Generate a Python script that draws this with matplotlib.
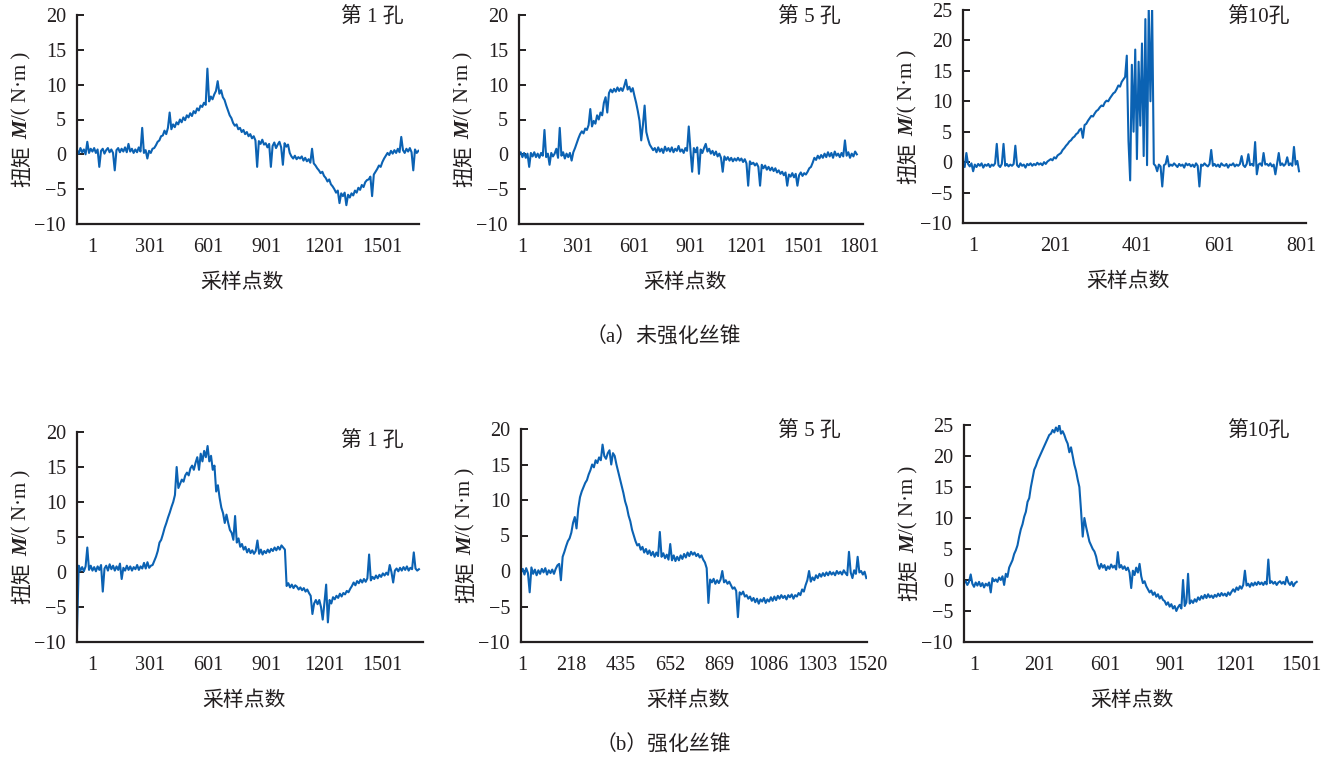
import numpy as np
import matplotlib
matplotlib.use('Agg')
import matplotlib.pyplot as plt

plt.rcParams['font.family'] = ['Liberation Serif', 'Noto Sans CJK SC']

# ---- data (torque, N·m), evenly spaced along each record ----
# (a) untreated tap, hole 1
torque_a1 = [0.6, 0.1, 0.9, 0.3, 0.7, 0.0, 1.8, 0.2, 0.8, 0.4,
             0.9, 0.2, 0.7, -1.8, 0.5, 0.8, 0.1, 0.6, 0.9, 0.3,
             0.7, 0.2, -2.3, 0.6, 0.9, 0.3, 0.8, 0.4, 1.0, 0.3,
             1.5, 0.4, 0.8, 0.2, 0.7, 0.3, 1.0, 0.4, 3.8, 0.2,
             0.6, -0.6, 0.5, 0.2, 0.8, 0.9, 1.3, 1.8, 2.0, 2.6,
             2.7, 3.4, 2.9, 3.8, 6.0, 3.6, 4.3, 3.9, 4.6, 4.3,
             5.0, 4.6, 5.3, 4.9, 5.6, 5.3, 5.9, 5.5, 6.2, 5.9,
             6.6, 6.3, 7.0, 6.8, 7.4, 7.1, 12.3, 7.6, 8.3, 7.9,
             8.6, 9.1, 10.5, 8.7, 9.2, 8.2, 7.8, 7.0, 6.3, 5.6,
             5.2, 4.5, 4.1, 4.3, 3.6, 3.8, 3.2, 3.5, 2.9, 3.2,
             2.6, 2.9, 2.3, 2.6, 2.0, -1.8, 1.9, 1.5, 2.1, 1.4,
             1.6, 1.0, 1.5, -1.8, 1.2, 1.7, 0.9, 1.4, 1.8, 1.0,
             -1.5, 1.6, 1.1, 1.4, 0.2, -0.3, -0.6, -0.2, -0.7, -0.4,
             -0.6, -0.3, -0.9, -0.5, -1.0, -0.7, -1.2, 0.8, -1.3, -1.6,
             -2.0, -2.3, -2.7, -2.5, -3.1, -3.4, -3.9, -3.6, -4.3, -4.6,
             -5.0, -5.5, -5.2, -7.0, -5.6, -6.0, -5.5, -7.3, -5.8, -6.2,
             -5.6, -5.9, -5.2, -5.5, -4.8, -5.1, -4.4, -4.7, -4.0, -3.7,
             -3.6, -3.2, -6.0, -2.9, -2.5, -2.1, -1.6, -1.8, -1.1, -0.6,
             -0.2, 0.2, -0.1, 0.5, 0.1, 0.6, 0.2, 0.8, 0.3, 2.5,
             0.6, 0.2, 0.8, 0.4, 0.9, 0.3, -2.3, 0.7, 0.2, 0.5]
# (a) untreated tap, hole 5
torque_a5 = [-0.1, 0.3, -0.4, 0.2, -0.5, 0.1, -1.8, 0.2, -0.3, 0.3,
             -0.4, 0.1, -0.5, 0.2, -0.2, 3.5, -0.4, 0.1, -1.5, 0.2,
             -0.3, 0.1, 0.8, -0.5, 3.8, -0.2, 0.3, -0.6, 0.1, -0.4,
             0.2, -0.9, 0.3, 0.9, 1.6, 2.3, 2.9, 3.3, 3.0, 3.7,
             3.5, 4.2, 6.5, 4.0, 4.8, 4.4, 5.6, 5.0, 6.0, 5.6,
             7.4, 8.2, 6.0, 8.8, 9.3, 8.9, 9.4, 9.0, 9.6, 9.1,
             9.5, 9.1, 9.8, 10.7, 9.3, 9.7, 9.0, 9.5, 8.4, 7.4,
             6.2, 4.8, 2.0, 4.2, 7.0, 3.2, 2.2, 1.4, 1.0, 0.6,
             0.9, 0.3, 1.0, 0.4, 0.8, 0.2, 1.1, 0.5, 0.9, 0.4,
             1.0, 0.3, 0.8, 0.5, 1.2, 0.4, 0.7, 0.2, 0.9, 0.5,
             4.0, 0.6, -2.5, 0.9, 0.3, 1.0, -2.8, 0.7, 0.2, 0.9,
             1.5, 0.4, 0.8, 0.1, 0.5, -0.1, 0.4, -0.3, 0.1, -0.5,
             -2.5, -0.3, -0.8, -0.4, -0.9, -0.5, -1.0, -0.6, -0.9, -0.5,
             -0.9, -0.6, -1.1, -0.7, -1.3, -4.5, -1.0, -1.4, -1.2, -1.6,
             -1.3, -1.8, -4.5, -1.5, -2.0, -1.6, -2.2, -1.8, -2.3, -1.9,
             -2.4, -2.0, -2.6, -2.3, -2.8, -2.5, -3.0, -2.6, -4.5, -2.9,
             -3.2, -2.7, -3.3, -2.8, -4.5, -3.0, -2.6, -3.1, -2.7, -2.9,
             -2.5, -2.0, -1.8, -1.2, -0.5, -0.8, -0.2, -0.6, -0.1, -0.5,
             0.1, -0.4, 0.3, -0.3, 0.2, -0.5, 0.4, -0.2, 0.1, -0.4,
             0.2, -0.3, 2.0, -0.2, 0.3, -0.5, 0.1, -0.3, 0.4, 0.0]
# (a) untreated tap, hole 10
torque_a10 = [-0.5, -0.8, 1.5, -0.3, -0.7, -0.2, -1.5, -0.4, -0.8, -0.3,
              -0.6, -0.2, -0.9, -0.4, -0.6, -0.3, -0.8, -0.4, -0.6, -0.2,
              3.0, -0.5, -0.8, -0.3, 3.0, -0.6, -0.3, -0.7, -0.4, -0.6,
              -0.3, 2.7, -0.5, -0.8, -0.2, -0.6, -0.4, -0.9, -0.3, -0.5,
              -0.2, -0.6, -0.3, -0.5, -0.1, -0.4, -0.2, -0.5, 0.0, -0.3,
              0.1, 0.3, 0.5, 0.3, 0.8, 0.6, 1.1, 1.3, 1.5, 2.0,
              2.3, 2.7, 3.0, 3.4, 3.6, 4.0, 4.2, 4.6, 4.8, 5.3,
              5.5, 4.0, 6.1, 6.3, 6.8, 7.2, 7.6, 7.5, 8.0, 8.4,
              8.6, 9.0, 9.3, 9.2, 9.8, 10.1, 10.0, 10.5, 10.9, 11.3,
              11.5, 12.0, 12.6, 12.4, 13.2, 13.6, 14.0, 17.5, 3.5, -3.0,
              16.0, 5.0, 18.5, 0.5, 16.5, 6.0, 19.5, 1.0, 23.5, -0.5,
              25.5, 10.0, 25.5, -0.3, -0.6, -1.5, -0.4, -0.7, -4.0, -0.5,
              -0.3, 1.0, -0.7, -0.4, -0.6, -0.2, -0.5, -0.8, -0.3, -0.6,
              -0.4, -0.9, -0.2, -0.5, -0.3, -0.7, -0.4, -0.8, -0.2, -0.6,
              -4.0, -0.4, -0.6, -0.2, -0.5, -0.7, -0.3, 2.0, -0.6, -0.3,
              -0.7, -0.4, -0.8, -0.2, -0.5, -0.6, -0.3, -0.9, -0.4, -0.5,
              -0.2, -0.7, -0.4, -0.6, -0.3, 1.0, -0.5, -0.8, -0.3, 1.3,
              -0.5, -0.3, -0.6, 3.3, -2.0, -0.4, -0.2, -0.6, 1.5, -0.4,
              -0.3, -0.6, -0.2, -0.7, -0.4, -2.0, -0.3, 1.5, -0.5, -0.2,
              -0.6, -0.3, 0.8, -0.5, -0.2, -0.6, 2.5, -0.4, 0.2, -1.5]
# (b) strengthened tap, hole 1
torque_b1 = [-8.5, 0.9, 0.2, 0.7, 0.1, 0.8, 3.5, 0.3, 0.9, 0.2,
             0.7, 0.1, 0.8, 0.3, 1.0, -2.8, 0.5, 0.9, 0.2, 1.1,
             0.4, 0.9, 0.2, 0.8, 0.3, 1.2, -1.0, 0.6, 0.2, 0.9,
             0.3, 0.8, 0.2, 0.7, 0.4, 1.0, 0.3, 0.8, 0.5, 1.3,
             0.5, 1.4, 0.6, 0.9, 1.0, 1.6, 2.2, 3.0, 4.2, 4.6,
             5.4, 6.3, 7.0, 7.8, 8.5, 9.3, 10.0, 11.0, 15.0, 12.0,
             12.6, 13.2, 12.9, 13.8, 14.2, 13.8, 14.8, 15.2, 14.6, 15.6,
             16.4, 14.6, 16.9, 15.8, 17.3, 16.4, 18.0, 15.8, 16.6, 14.6,
             15.2, 11.5, 12.4, 10.6, 9.2, 8.4, 7.0, 8.2, 7.0, 6.0,
             5.6, 4.6, 8.0, 4.2, 4.8, 3.6, 4.0, 3.2, 3.6, 2.8,
             3.3, 2.7, 3.1, 2.6, 3.0, 4.5, 2.6, 3.2, 2.5, 3.0,
             2.7, 3.2, 2.8, 3.3, 3.0, 3.5, 3.1, 3.6, 3.2, 3.8,
             3.5, 3.2, -2.0, -1.6, -2.2, -1.8, -2.3, -1.9, -2.1, -2.5,
             -2.2, -2.6, -2.3, -2.8, -2.5, -3.0, -3.4, -6.0, -4.5, -4.0,
             -4.6, -4.0, -5.0, -6.8, -4.4, -1.8, -7.2, -4.0, -4.5, -3.6,
             -3.9, -3.4, -3.7, -3.1, -3.5, -3.0, -3.2, -2.7, -2.9, -2.4,
             -2.0, -1.5, -1.9, -1.3, -1.6, -1.1, -1.5, -1.0, -1.4, -0.9,
             2.5, -1.2, -0.7, -1.0, -0.5, -0.9, -0.4, -0.7, -0.2, -0.5,
             -0.1, -0.4, 1.0, 0.0, -1.5, 0.2, 0.5, 0.1, 0.6, 0.2,
             0.7, 0.3, 0.8, 0.2, 0.6, 0.4, 2.8, 0.5, 0.2, 0.4]
# (b) strengthened tap, hole 5
torque_b5 = [-0.2, 0.3, -0.5, 0.4, -0.3, -3.0, 0.5, -0.4, 0.2, -0.6,
             0.1, -0.4, 0.3, -0.2, 0.4, -0.5, 0.1, -0.3, 0.2, -0.4,
             0.3, 0.8, 1.0, -1.3, 2.0, 2.7, 3.5, 4.2, 4.6, 5.4,
             6.8, 7.6, 6.0, 8.8, 10.4, 11.2, 11.8, 12.4, 12.8, 13.6,
             14.2, 15.0, 14.6, 15.6, 15.2, 16.0, 15.6, 17.8, 16.2, 15.8,
             16.6, 17.0, 15.0, 16.6, 16.2, 15.0, 14.0, 13.0, 12.0, 11.0,
             9.8, 9.0, 7.8, 7.0, 5.8, 5.0, 4.2, 3.6, 3.8, 3.0,
             3.4, 2.6, 3.1, 2.4, 2.9, 2.2, 2.7, 2.0, 2.6, 2.1,
             5.5, 2.0, 2.5, 1.8, 2.3, 1.6, 3.8, 1.5, 2.2, 1.4,
             2.0, 1.5, 2.2, 1.7, 2.4, 1.9, 2.6, 2.1, 2.7, 2.3,
             2.6, 2.1, 2.4, 1.9, 2.2, 1.6, 1.2, 0.4, -4.5, -1.2,
             -1.6, -1.1, -1.8, -1.3, -1.7, -1.2, 0.0, -1.6, -1.3, -1.8,
             -1.5, -2.0, -2.5, -2.3, -2.8, -6.5, -3.0, -3.3, -2.9, -3.6,
             -3.4, -3.9, -3.6, -4.2, -3.8, -4.4, -3.9, -4.6, -4.0, -4.3,
             -3.8, -4.5, -4.0, -4.3, -3.7, -4.2, -3.6, -4.1, -3.5, -3.9,
             -3.4, -3.8, -3.5, -4.0, -3.4, -3.7, -3.3, -3.9, -3.4, -3.6,
             -3.1, -3.4, -2.6, -2.9, -2.0, -1.3, 0.0, -1.5, -0.9, -1.3,
             -0.6, -1.0, -0.4, -0.8, -0.3, -0.7, -0.2, -0.6, -0.1, -0.5,
             -0.2, -0.6, 0.0, -0.4, -0.1, -0.5, 0.1, -0.3, -0.6, 2.7,
             -0.2, -1.0, 0.1, -0.4, 2.0, -0.2, 0.0, -0.5, -0.1, -1.0]
# (b) strengthened tap, hole 10
torque_b10 = [-0.5, -0.2, -0.8, -0.3, 0.9, -0.6, -1.1, -0.4, -0.9, -0.3,
              -1.0, -0.5, -1.2, -0.6, -0.9, -0.4, -2.0, 0.3, -0.2, 0.1,
              -0.3, 0.4, 0.0, 0.6, -0.8, 1.0, 0.5, 2.0, 2.6, 3.2,
              4.2, 4.8, 5.6, 7.0, 8.2, 9.0, 10.2, 11.0, 12.6, 13.2,
              15.0, 16.4, 17.8, 18.4, 19.2, 19.8, 20.4, 21.0, 21.6, 22.2,
              22.8, 23.4, 23.6, 24.2, 23.8, 24.6, 24.0, 25.0, 23.6, 24.0,
              23.4, 22.6, 22.0, 20.6, 21.4, 20.0, 18.6, 17.6, 16.2, 15.0,
              11.2, 7.0, 10.0, 8.6, 7.4, 6.2, 5.6, 5.0, 4.6, 3.8,
              2.5, 1.8, 2.6, 2.0, 2.4, 1.6, 2.2, 1.8, 2.5, 2.0,
              2.3, 1.7, 4.5, 2.0, 2.4, 1.8, 2.2, 1.6, 2.0, 1.2,
              -1.3, 1.5, 0.8, 2.0, 1.2, 2.6, 0.6, -0.5, -0.2, -1.0,
              -1.5, -2.0, -1.7, -2.4, -2.0, -2.7, -2.3, -3.0, -2.6, -3.2,
              -3.4, -4.0, -3.6, -4.3, -3.9, -4.6, -4.2, -5.0, -4.4, -4.0,
              -4.6, 0.0, -4.2, -3.6, 1.0, -3.8, -3.3, -3.7, -3.1, -3.5,
              -2.8, -3.2, -2.6, -3.0, -2.4, -2.9, -2.3, -2.8, -2.5, -2.9,
              -2.4, -2.7, -2.2, -2.6, -2.1, -2.5, -2.2, -2.6, -2.0, -2.4,
              -1.9, -1.5, -1.9, -1.2, -1.6, -1.0, -1.4, -0.8, 1.5, -0.9,
              -0.6, -1.1, -0.5, -0.9, -0.4, -0.8, -0.3, -0.7, -0.4, -0.8,
              -0.3, -0.7, 3.3, -0.5, -0.2, -0.6, -0.3, -0.8, -0.4, -0.2,
              -0.6, -0.3, -0.7, 0.5, -0.4, -0.8, -0.3, -1.0, -0.5, -0.3]

xt_a1 = [1, 301, 601, 901, 1201, 1501]
xt_a5 = [1, 301, 601, 901, 1201, 1501, 1801]
xt_a10 = [1, 201, 401, 601, 801]
xt_b5 = [1, 218, 435, 652, 869, 1086, 1303, 1520]
xt_b10 = [1, 301, 601, 901, 1201, 1501]
xl_b10 = ['1', '201', '601', '901', '1201', '1501']   # as printed in the source
yt_20 = [-10, -5, 0, 5, 10, 15, 20]
yt_25 = [-10, -5, 0, 5, 10, 15, 20, 25]

titles = ['第 1 孔', '第 5 孔', '第10孔']
captions = ['（a）未强化丝锥', '（b）强化丝锥']

W, H = 1331, 760
BLUE = '#0b62b3'
INK = '#231f20'
FS = 14.5      # numbers
FS_CN = 15     # chinese text

fig = plt.figure(figsize=(W / 100, H / 100), dpi=100)
renderer = fig.canvas.get_renderer()


def fx(x):
    return x / W


def fy(y):
    return 1 - y / H


def torque_label(x_px, yc_px):
    # 扭矩 M/( N·m ) with a bold-italic M, stacked bottom-to-top
    parts = [('扭矩', dict(family=['Noto Sans CJK SC']), 6),
             ('M', dict(family=['Liberation Serif'], weight='bold', style='italic'), 0),
             ('/( N·m )', dict(family=['Liberation Serif', 'Noto Sans CJK SC']), 0)]
    made = []
    for s, kw, gap in parts:
        t = fig.text(0, 0, s, rotation=90, ha='center', va='bottom',
                     fontsize=FS_CN, color=INK, **kw)
        made.append((t, t.get_window_extent(renderer).height + gap))
    y = yc_px + sum(h for _, h in made) / 2
    for t, h in made:
        t.set_position((fx(x_px), fy(y)))
        y -= h


# values, ticks, tick labels, yticks, title, axes box px (l, t, r, b), xlim, data end, title pos
panels = [
    (torque_a1, xt_a1, None, yt_20, titles[0], (77, 15, 419, 224), (-77, 1693), 1690, (372, 18)),
    (torque_a5, xt_a5, None, yt_20, titles[1], (519, 15, 863, 224), (-15, 1822), 1789, (809, 18)),
    (torque_a10, xt_a10, None, yt_25, titles[2], (963, 10, 1306, 223), (-23, 813), 796, (1258, 18)),
    (torque_b1, xt_a1, None, yt_20, titles[0], (77, 432, 423, 642), (-77, 1713), 1692, (372, 442)),
    (torque_b5, xt_b5, None, yt_20, titles[1], (521, 429, 867, 642), (-3, 1519), 1517, (809, 432)),
    (torque_b10, xt_b10, xl_b10, yt_25, titles[2], (964, 425, 1312, 642), (-45, 1551), 1481, (1258, 432)),
]

for vals, xt, xl, yt, title, box, xlim, xend, tpos in panels:
    l, t, r, b = box
    ax = fig.add_axes([fx(l), fy(b), (r - l) / W, (b - t) / H])
    x = np.linspace(xlim[0], xend, len(vals))
    ax.plot(x, vals, color=BLUE, lw=1.5)
    ax.set_xlim(*xlim)
    ax.set_ylim(yt[0], yt[-1])
    ax.set_xticks(xt)
    ax.set_xticklabels(xl if xl else [str(v) for v in xt])
    ax.set_yticks(yt)
    for s in ['top', 'right']:
        ax.spines[s].set_visible(False)
    for s in ['left', 'bottom']:
        ax.spines[s].set_linewidth(1.6)
        ax.spines[s].set_color(INK)
    ax.tick_params(axis='x', length=0, pad=10, labelsize=FS, labelcolor=INK)
    ax.tick_params(axis='y', direction='in', length=5, width=1.4, pad=8,
                   labelsize=FS, labelcolor=INK, color=INK)
    ax.patch.set_alpha(0)
    torque_label(l - 55, (t + b) / 2)
    fig.text(fx((l + r) / 2 - 6), fy(b + 59), '采样点数', ha='center', va='center',
             fontsize=FS_CN, color=INK)
    fig.text(fx(tpos[0]), fy(tpos[1]), title, ha='center', va='center',
             fontsize=FS_CN, color=INK)

fig.text(fx(663), fy(338), captions[0], ha='center', va='center', fontsize=FS_CN, color=INK)
fig.text(fx(663), fy(746), captions[1], ha='center', va='center', fontsize=FS_CN, color=INK)

fig.savefig('out.png', dpi=100)
